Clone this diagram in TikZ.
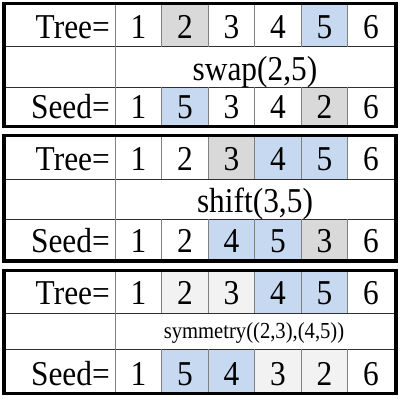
\documentclass[tikz,border=0pt]{standalone}
\usepackage{graphicx}
\usepackage{fontspec}
\setmainfont{LiberationSerif-Regular.ttf}
\definecolor{cellgray}{HTML}{D9D9D9}
\definecolor{cellblue}{HTML}{C6D9F1}
\definecolor{celllight}{HTML}{F2F2F2}
\definecolor{vlinecol}{HTML}{808080}
\definecolor{hlinecol}{HTML}{303030}
\newcommand\bigtxt{\fontsize{35}{35}\selectfont}
\newcommand\smalltxt{\fontsize{23}{23}\selectfont}
\newcommand\sq[1]{\scalebox{0.9}[1]{#1}}
\newcommand\drawtbl[8]{%
  % #1 name, #2 top, #3 row line 1, #4 row line 2, #5 bottom, #6 top cells, #7 operation, #8 bottom cells
  \foreach \i/\v/\c in {#6} {
    \fill[\c] ({115.3+(\i-1)*46.5},#2) rectangle ({115.3+\i*46.5},#3);
  }
  \foreach \i/\v/\c in {#8} {
    \fill[\c] ({115.3+(\i-1)*46.5},#4) rectangle ({115.3+\i*46.5},#5);
  }
  \draw[hl] (4,#3) -- (396,#3);
  \draw[hl] (4,#4) -- (396,#4);
  \draw[vl] (115.3,#2) -- (115.3,#5);
  \foreach \k in {2,...,6} {
    \draw[vl] ({115.3+(\k-1)*46.5},#2) -- ({115.3+(\k-1)*46.5},#3);
    \draw[vl] ({115.3+(\k-1)*46.5},#4) -- ({115.3+(\k-1)*46.5},#5);
  }
  \foreach \i/\v/\c in {#6} {
    \node[txt] (#1t\i) at ({92.05+\i*46.5},#3-8.5) {\sq{\v}};
  }
  \foreach \i/\v/\c in {#8} {
    \node[txt] (#1b\i) at ({92.05+\i*46.5},#5-8.5) {\sq{\v}};
  }
  \node[lbl] (#1tree) at (110,#3-8.5) {\sq{Tree=}};
  \node[lbl] (#1seed) at (110,#5-8.5) {\sq{Seed=}};
  #7
  \draw[frame] (4,#2) rectangle (396,#5);
}
\begin{document}
\begin{tikzpicture}[x=1bp,y=-1bp,
  txt/.style={anchor=base,inner sep=0pt,font=\bigtxt},
  lbl/.style={anchor=base east,inner sep=0pt,font=\bigtxt},
  optxt/.style={anchor=base,inner sep=0pt},
  vl/.style={draw=vlinecol,line width=1bp},
  hl/.style={draw=hlinecol,line width=1.4bp},
  frame/.style={draw=black,line width=3.5bp}]
\useasboundingbox (0,0) rectangle (401,400);
\drawtbl{A}{3.3}{46.7}{87.3}{126.7}
  {1/1/white,2/2/cellgray,3/3/white,4/4/white,5/5/cellblue,6/6/white}
  {\node[optxt,font=\bigtxt] (Aop) at (255,80.3) {\sq{swap(2,5)}};}
  {1/1/white,2/5/cellblue,3/3/white,4/4/white,5/2/cellgray,6/6/white}
\drawtbl{B}{135.3}{179.3}{219.3}{261}
  {1/1/white,2/2/white,3/3/cellgray,4/4/cellblue,5/5/cellblue,6/6/white}
  {\node[optxt,font=\bigtxt] (Bop) at (255,212.3) {\sq{shift(3,5)}};}
  {1/1/white,2/2/white,3/4/cellblue,4/5/cellblue,5/3/cellgray,6/6/white}
\drawtbl{C}{270.5}{313.3}{349.3}{393.5}
  {1/1/white,2/2/celllight,3/3/celllight,4/4/cellblue,5/5/cellblue,6/6/white}
  {\node[optxt,font=\smalltxt] (Cop) at (254,338.3) {\sq{symmetry((2,3),(4,5))}};}
  {1/1/white,2/5/cellblue,3/4/cellblue,4/3/celllight,5/2/celllight,6/6/white}
\end{tikzpicture}
\end{document}
